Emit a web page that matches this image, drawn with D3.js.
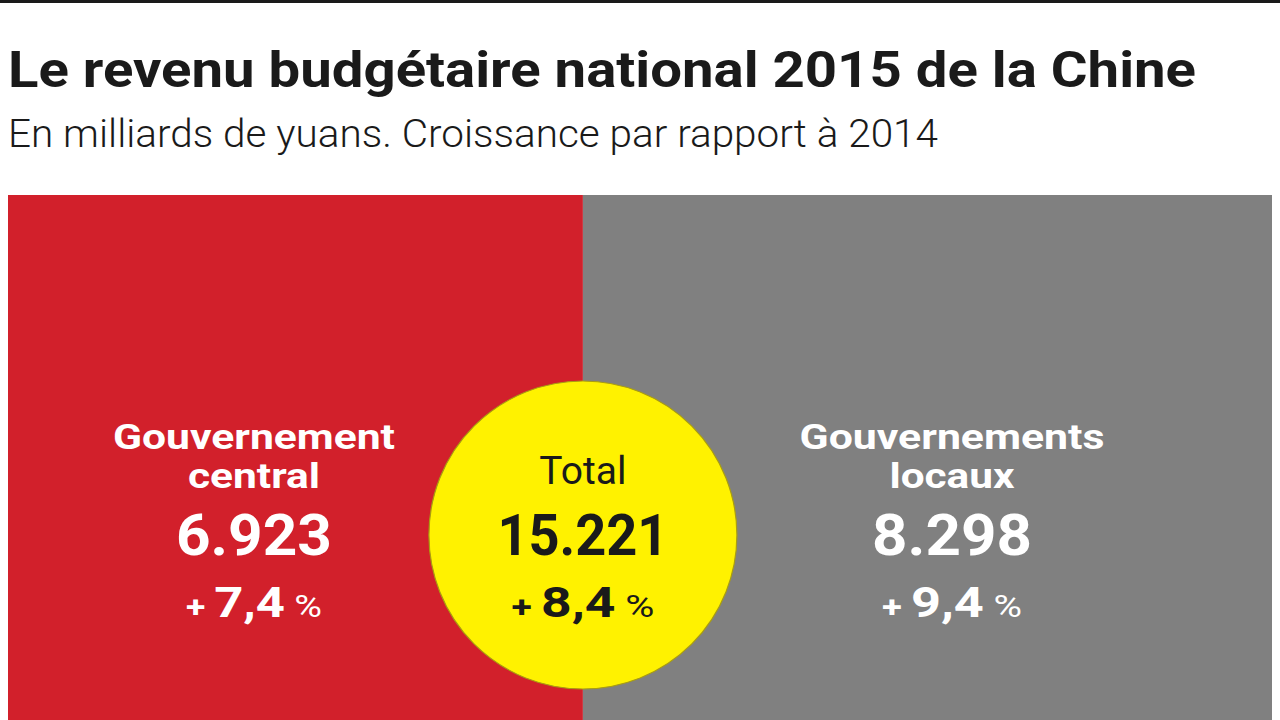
<!DOCTYPE html>
<html>
<head>
<meta charset="utf-8">
<script src="https://cdn.jsdelivr.net/npm/d3@7"></script>
<style>
  html, body { margin: 0; padding: 0; background: #fff; }
  svg { display: block; }
</style>
</head>
<body>
<script>
// ---- Data ----
const title = "Le revenu budgétaire national 2015 de la Chine";
const subtitle = "En milliards de yuans. Croissance par rapport à 2014";
const categories = ["Gouvernement central", "Gouvernements locaux"];
const values = [6923, 8298];          // milliards de yuans
const growth = [7.4, 9.4];            // % vs 2014
const totalLabel = "Total";
const totalValue = 15221;
const totalGrowth = 8.4;

// ---- Layout ----
const W = 1280, H = 720;
const fill = ["#d2202b", "#808080"];
const fr = d3.formatLocale({decimal: ",", thousands: ".", grouping: [3], currency: ["", " €"]});
const fmtV = fr.format(",d");
const fmtG = fr.format(",.1f");

const svg = d3.select("body").append("svg").attr("width", W).attr("height", H);

svg.append("rect").attr("x", 0).attr("y", 0).attr("width", W).attr("height", 3).attr("fill", "#1a1a1a");

svg.append("text").attr("x", 8).attr("y", 87)
  .attr("font-family", "Roboto").attr("font-weight", 700).attr("font-size", 50)
  .attr("fill", "#1a1a1a").attr("textLength", 1188).attr("lengthAdjust", "spacingAndGlyphs")
  .text(title);
svg.append("text").attr("x", 8).attr("y", 147)
  .attr("font-family", "Roboto").attr("font-weight", 300).attr("font-size", 39)
  .attr("fill", "#1a1a1a").attr("textLength", 930).attr("lengthAdjust", "spacingAndGlyphs")
  .text(subtitle);

const x = d3.scaleLinear().domain([0, d3.sum(values)]).range([8, 1272]);
const stack = values.map((v, i) => ({v, i, x0: d3.sum(values.slice(0, i)), x1: d3.sum(values.slice(0, i + 1))}));
const blockTop = 195;

svg.selectAll("rect.part").data(stack).join("rect").attr("class", "part")
  .attr("x", d => x(d.x0)).attr("y", blockTop)
  .attr("width", d => x(d.x1) - x(d.x0)).attr("height", H - blockTop)
  .attr("fill", d => fill[d.i]);

// label layout (centres and target widths)
const labelX = [254, 952];
const line1W = [282, 305], line2W = [132, 125], valW = [156, 160], grW = [136, 140];

function growthText(sel, val, w) {
  const t = sel.append("text").attr("y", 617)
    .attr("textLength", w).attr("lengthAdjust", "spacingAndGlyphs");
  t.append("tspan").attr("font-weight", 700).attr("font-size", 30).text("+ ");
  t.append("tspan").attr("font-weight", 700).attr("font-size", 43).text(fmtG(val));
  t.append("tspan").attr("font-weight", 400).attr("font-size", 32).text(" %");
}

const g = svg.selectAll("g.lab").data(stack).join("g").attr("class", "lab")
  .attr("transform", d => `translate(${labelX[d.i]},0)`)
  .attr("fill", "#fff").attr("font-family", "Roboto").attr("text-anchor", "middle");
g.each(function(d) {
  const sel = d3.select(this);
  const name = categories[d.i];
  const sp = name.indexOf(" ");
  sel.append("text").attr("y", 449).attr("font-weight", 700).attr("font-size", 35)
    .attr("textLength", line1W[d.i]).attr("lengthAdjust", "spacingAndGlyphs").text(name.slice(0, sp));
  sel.append("text").attr("y", 488).attr("font-weight", 700).attr("font-size", 35)
    .attr("textLength", line2W[d.i]).attr("lengthAdjust", "spacingAndGlyphs").text(name.slice(sp + 1));
  sel.append("text").attr("y", 555).attr("font-weight", 700).attr("font-size", 58)
    .attr("textLength", valW[d.i]).attr("lengthAdjust", "spacingAndGlyphs").text(fmtV(d.v));
  growthText(sel, growth[d.i], grW[d.i]);
});

// total circle
const cx = x(values[0]);
svg.append("circle").attr("cx", cx).attr("cy", 535).attr("r", 154)
  .attr("fill", "#fff200").attr("stroke", "#a99d10").attr("stroke-width", 1.2);
const tg = svg.append("g").attr("transform", `translate(${cx},0)`)
  .attr("fill", "#1a1a1a").attr("font-family", "Roboto").attr("text-anchor", "middle");
tg.append("text").attr("y", 484).attr("font-weight", 400).attr("font-size", 39).text(totalLabel);
tg.append("text").attr("y", 555).attr("font-weight", 700).attr("font-size", 58)
  .attr("textLength", 171).attr("lengthAdjust", "spacingAndGlyphs").text(fmtV(totalValue));
growthText(tg, totalGrowth, 143);
</script>
</body>
</html>
